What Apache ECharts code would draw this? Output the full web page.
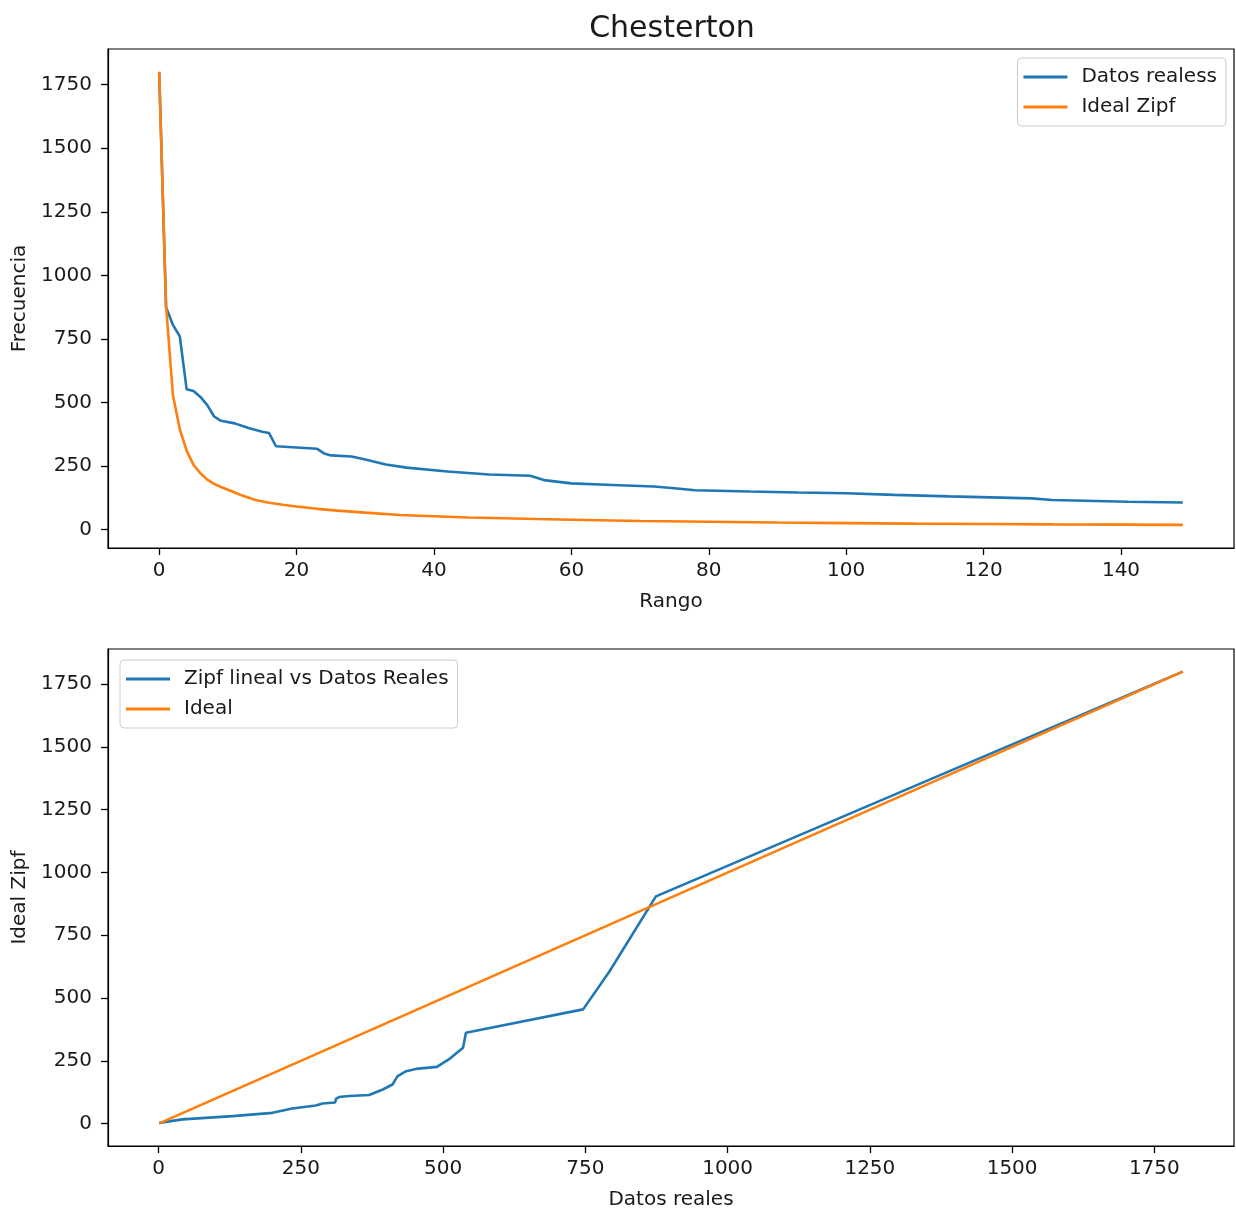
<!DOCTYPE html>
<html>
<head>
<meta charset="utf-8">
<script src="https://cdn.jsdelivr.net/npm/echarts@6/dist/echarts.min.js"></script>
<style>
  html, body { margin: 0; padding: 0; background: #fff; }
  #chart { width: 1236px; height: 1211px; }
</style>
</head>
<body>
<div id="chart"></div>
<script>
// top plot: frequency by rank
const topRank = [0, 1, 2, 3, 4, 5, 6, 7, 8, 9, 11, 13, 15, 16, 17, 23, 24, 25, 28, 30, 33, 36, 42, 48, 54, 56, 60, 66, 72, 75, 78, 86, 93, 100, 107, 115, 127, 130, 141, 149]
const topReal = [1800, 875, 805, 760, 552, 545, 522, 490, 445, 428, 418, 400, 385, 380, 328, 318, 300, 292, 288, 276, 256, 244, 229, 217, 212, 195, 182, 176, 170, 163, 155, 150, 146, 143, 137, 131, 123, 117, 110, 107]
const idealRank = [0, 1, 2, 3, 4, 5, 6, 7, 8, 9, 10, 11, 12, 14, 16, 18, 20, 23, 26, 30, 35, 40, 45, 50, 55, 62, 70, 80, 90, 100, 110, 120, 130, 140, 149]
const idealVal = [1800, 880, 530, 395, 310, 255, 222, 197, 180, 168, 157, 146, 135, 117, 106, 98, 91, 82, 75, 67, 58, 53, 48, 45, 42, 38, 34, 31, 28, 26, 24, 22.5, 21, 20, 19]

// bottom plot: real data (x) vs ideal zipf (y)
const bottomReal = [1800, 874, 792, 746, 540, 535, 512, 489, 452, 435, 420, 411, 394, 370, 335, 317, 312, 310, 288, 276, 235, 200, 130, 42, 1]
const bottomIdeal = [1800, 905, 605, 455, 362, 302, 259, 226, 218, 209, 189, 156, 136, 114, 110, 106, 100, 84, 80, 72, 60, 43, 30, 17, 3]
const lineX = [1, 1800]
const lineY = [1, 1800]

// tick labels
const topXTicks = [0, 20, 40, 60, 80, 100, 120, 140]
const freqTicks = [0, 250, 500, 750, 1000, 1250, 1500, 1750]
const bottomXTicks = [0, 250, 500, 750, 1000, 1250, 1500, 1750]

const FONT = 'DejaVu Sans'
const FS = 20
const TXT = '#1a1a1a'
const BLUE = '#1f77b4'
const ORANGE = '#ff7f0e'

const pairs = (xs, ys) => xs.map((x, i) => [x, ys[i]])

const labelOf = (ticks, margin) => ({
  customValues: ticks,
  margin: margin,
  formatter: (v) => String(v),
  fontFamily: FONT,
  fontSize: FS,
  color: TXT
})

const axisBase = (ticks, extra) => Object.assign({
  type: 'value',
  splitLine: { show: false },
  axisLine: { show: true, onZero: false, lineStyle: { color: '#000', width: 1.2 } },
  axisTick: { show: true, length: 7, customValues: ticks, lineStyle: { color: '#000', width: 1.3 } },
  nameLocation: 'middle',
  nameTextStyle: { fontFamily: FONT, fontSize: FS, color: TXT }
}, extra)

const legendBase = {
  orient: 'vertical',
  icon: 'rect',
  itemWidth: 44,
  itemHeight: 3,
  itemGap: 10,
  padding: [9, 9, 9, 6],
  backgroundColor: 'rgba(255,255,255,0.8)',
  borderColor: '#cccccc',
  borderWidth: 1,
  borderRadius: 4,
  textStyle: { fontFamily: FONT, fontSize: FS, color: TXT, lineHeight: 20, padding: [0, 0, 0, 9] }
}

const lineSeries = (name, data, color, idx) => ({
  name: name,
  type: 'line',
  data: data,
  xAxisIndex: idx,
  yAxisIndex: idx,
  symbol: 'none',
  animation: false,
  lineStyle: { color: color, width: 2.6 },
  itemStyle: { color: color }
})

const chart = echarts.init(document.getElementById('chart'))

chart.setOption({
  animation: false,
  backgroundColor: '#fff',
  title: {
    text: 'Chesterton',
    left: 667,
    top: 9,
    textAlign: 'center',
    textStyle: { fontFamily: FONT, fontSize: 30, fontWeight: 'normal', color: TXT }
  },
  grid: [
    { left: 108, right: 2, top: 49, height: 499, show: true, borderColor: '#000', borderWidth: 1.2, backgroundColor: '#fff' },
    { left: 108, right: 2, top: 649, height: 500, show: true, borderColor: '#000', borderWidth: 1.2, backgroundColor: '#fff' }
  ],
  legend: [
    Object.assign({}, legendBase, { right: 10, top: 58, data: ['Datos realess', 'Ideal Zipf'] }),
    Object.assign({}, legendBase, { left: 120, top: 660, data: ['Zipf lineal vs Datos Reales', 'Ideal'] })
  ],
  xAxis: [
    axisBase(topXTicks, { gridIndex: 0, min: -7.45, max: 156.45, name: 'Rango', nameGap: 44,
      axisLabel: labelOf(topXTicks, 13) }),
    axisBase(bottomXTicks, { gridIndex: 1, min: -89, max: 1890, name: 'Datos reales', nameGap: 44,
      axisLabel: labelOf(bottomXTicks, 13) })
  ],
  yAxis: [
    axisBase(freqTicks, { gridIndex: 0, min: -72, max: 1890, name: 'Frecuencia', nameGap: 70,
      axisLabel: labelOf(freqTicks, 16) }),
    axisBase(freqTicks, { gridIndex: 1, min: -89, max: 1890, name: 'Ideal Zipf', nameGap: 73,
      axisLabel: labelOf(freqTicks, 16) })
  ],
  series: [
    lineSeries('Datos realess', pairs(topRank, topReal), BLUE, 0),
    lineSeries('Ideal Zipf', pairs(idealRank, idealVal), ORANGE, 0),
    lineSeries('Zipf lineal vs Datos Reales', pairs(bottomReal, bottomIdeal), BLUE, 1),
    lineSeries('Ideal', pairs(lineX, lineY), ORANGE, 1)
  ]
})
</script>
</body>
</html>
